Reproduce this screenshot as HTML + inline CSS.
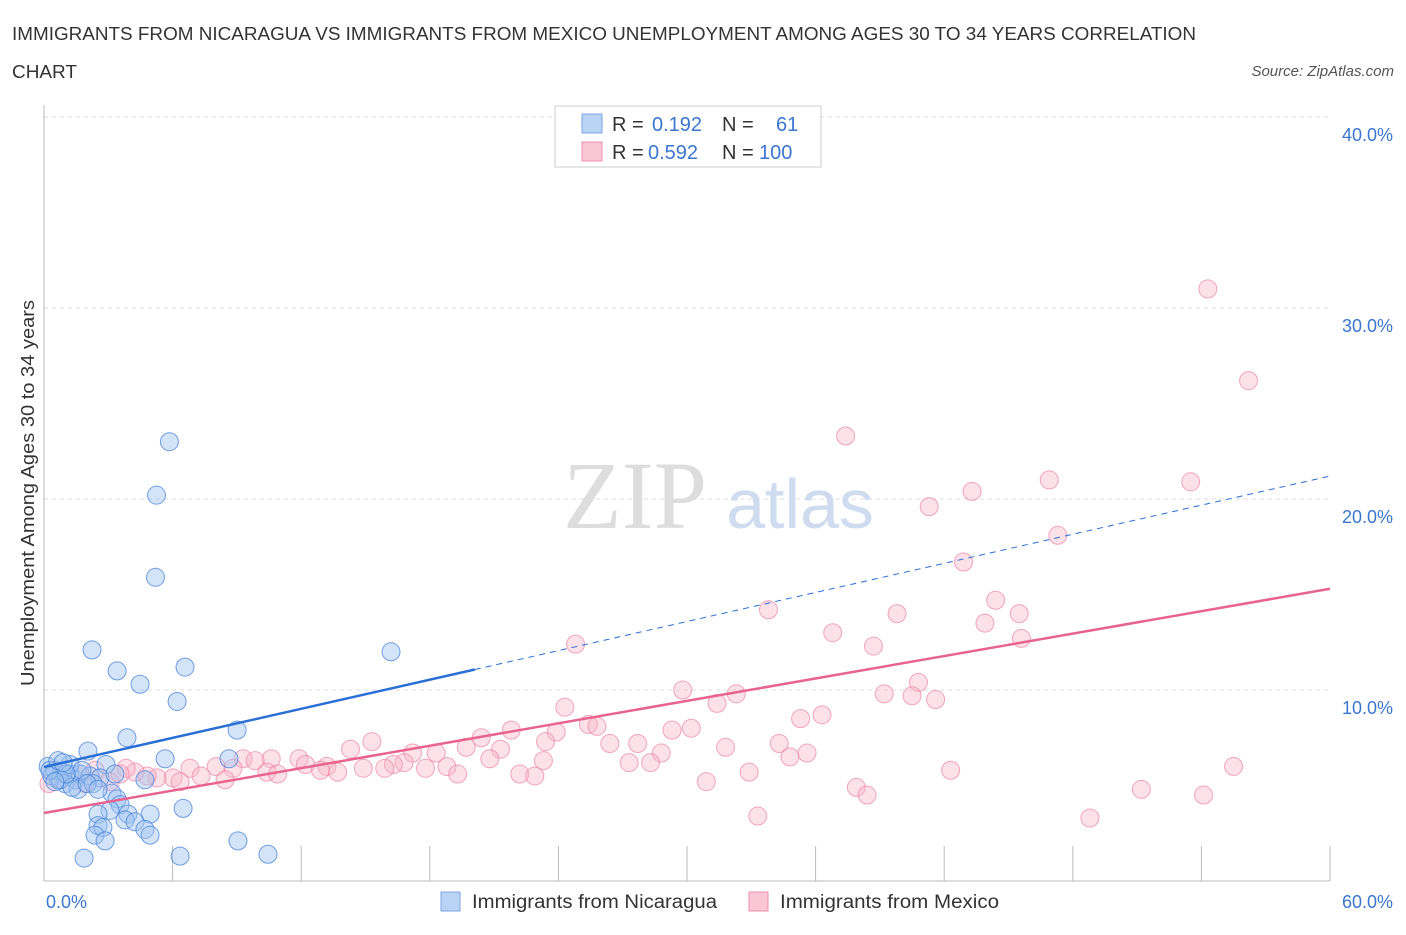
<!DOCTYPE html>
<html><head><meta charset="utf-8"><style>
body{margin:0;background:#fff;font-family:"Liberation Sans",sans-serif;}
</style></head><body>
<svg id="chart" width="1406" height="930" xmlns="http://www.w3.org/2000/svg">
<text x="12" y="40" font-size="18" fill="#333" textLength="1184" lengthAdjust="spacingAndGlyphs">IMMIGRANTS FROM NICARAGUA VS IMMIGRANTS FROM MEXICO UNEMPLOYMENT AMONG AGES 30 TO 34 YEARS CORRELATION</text>
<text x="12" y="78" font-size="18" fill="#333" textLength="65" lengthAdjust="spacingAndGlyphs">CHART</text>
<text x="1394" y="76" font-size="15" fill="#555" font-style="italic" text-anchor="end">Source: ZipAtlas.com</text>
<text x="34" y="493" font-size="18" fill="#333" text-anchor="middle" textLength="386" lengthAdjust="spacingAndGlyphs" transform="rotate(-90 34 493)">Unemployment Among Ages 30 to 34 years</text>
<g id="grid"></g>
<text x="635" y="528" font-size="96" fill="#ddd" font-family="Liberation Serif,serif" text-anchor="middle">ZIP</text>
<text x="800" y="528" font-size="70" fill="#cfdcf0" text-anchor="middle">atlas</text>
<g id="marks"></g>
<g>
<rect x="555" y="106" width="266" height="61" fill="#fff" stroke="#ccc"/>
<rect x="582" y="114" width="20" height="19" fill="#b9d3f5" stroke="#7aa6e6"/>
<rect x="582" y="142" width="20" height="19" fill="#fac6d6" stroke="#ec8fae"/>
<text x="612" y="131" font-size="20" fill="#333">R = <tspan fill="#3b76d0" x="652">0.192</tspan><tspan x="722">N =</tspan><tspan fill="#3b76d0" x="776">61</tspan></text>
<text x="612" y="159" font-size="20" fill="#333">R = <tspan fill="#3b76d0" x="648">0.592</tspan><tspan x="722">N =</tspan><tspan fill="#3b76d0" x="759">100</tspan></text>
</g>
<g>
<rect x="441" y="892" width="19" height="19" fill="#b9d3f5" stroke="#7aa6e6"/>
<text x="472" y="908" font-size="19" fill="#333" textLength="245" lengthAdjust="spacingAndGlyphs">Immigrants from Nicaragua</text>
<rect x="749" y="892" width="19" height="19" fill="#fac6d6" stroke="#ec8fae"/>
<text x="780" y="908" font-size="19" fill="#333" textLength="219" lengthAdjust="spacingAndGlyphs">Immigrants from Mexico</text>
</g>
</svg>
<script>
const yTicks=[10,20,30,40];
const yTickLabels=["10.0%","20.0%","30.0%","40.0%"];
const xTickValues=[0,6,12,18,24,30,36,42,48,54,60];
const xEndLabels=["0.0%","60.0%"];
const blueX=[5.85,5.25,5.2,2.24,3.41,6.58,4.48,6.21,16.19,9.01,3.87,5.65,8.63,2.05,2.89,0.19,0.51,0.84,1.21,0.65,1.45,0.37,1.68,2.15,0.98,1.59,2.61,3.31,4.71,3.17,3.41,3.55,3.08,2.52,3.92,4.95,6.49,3.78,4.25,4.71,4.95,2.52,2.75,2.38,2.85,1.87,6.35,9.05,10.45,0.75,1.21,1.77,0.28,2.29,0.65,1.31,2.01,1.03,0.51,0.89,2.52];
const blueY=[23.0,20.2,15.9,12.1,11.0,11.2,10.3,9.4,12.0,7.9,7.5,6.4,6.4,6.8,6.1,6.0,5.8,5.7,5.6,5.3,5.3,5.5,5.6,5.5,5.1,4.8,5.4,5.6,5.3,4.6,4.3,4.0,3.7,3.5,3.5,3.5,3.8,3.2,3.1,2.7,2.4,2.9,2.8,2.4,2.1,1.2,1.3,2.1,1.4,5.3,6.1,5.8,5.8,5.1,6.3,4.9,5.1,5.6,5.2,6.2,4.8];
const pinkX=[54.3,56.2,37.4,46.9,53.5,43.3,41.3,47.3,42.9,33.8,44.4,45.5,39.8,36.8,43.9,24.8,38.7,45.6,29.8,40.8,39.2,40.5,41.6,32.3,31.4,24.3,36.3,35.3,25.4,25.8,30.2,29.3,21.8,23.9,20.4,15.3,14.3,19.7,21.3,18.3,17.2,26.4,27.7,23.4,31.8,34.3,35.6,34.8,28.8,20.8,27.3,28.3,23.3,16.8,16.3,18.8,17.8,11.9,13.2,10.6,9.29,9.85,8.03,6.81,12.2,12.9,13.7,14.9,15.9,8.82,10.4,10.9,19.3,22.2,22.9,32.9,30.9,42.3,55.5,7.33,8.45,6.02,5.27,4.81,4.25,3.83,2.38,1.68,0.75,0.23,3.08,6.35,37.9,38.4,51.2,54.1,33.3,48.8,1.91,3.55];
const pinkY=[31.0,26.2,23.3,21.0,20.9,20.4,19.6,18.1,16.7,14.2,14.7,14.0,14.0,13.0,13.5,12.4,12.3,12.7,10.0,10.4,9.8,9.7,9.5,9.8,9.3,9.1,8.7,8.5,8.2,8.1,8.0,7.9,7.9,7.8,7.5,7.3,6.9,7.0,6.9,6.7,6.7,7.2,7.2,7.3,7.0,7.2,6.7,6.5,6.7,6.4,6.2,6.2,6.3,6.2,6.1,5.99,5.9,6.4,6.0,6.4,6.4,6.3,5.99,5.9,6.1,5.8,5.7,5.9,5.9,5.9,5.7,5.6,5.6,5.6,5.5,5.7,5.2,5.8,6.0,5.5,5.3,5.4,5.4,5.5,5.7,5.9,5.8,5.6,5.3,5.1,5.2,5.2,4.9,4.5,4.8,4.5,3.4,3.3,5.1,5.6];
const blueLine=[5.97,21.2];
const pinkLine=[3.56,15.3];
const X=v=>44+v*(1286/60), Y=v=>881-v*19.1;
const NS="http://www.w3.org/2000/svg";
function mk(tag,attrs,parent){const e=document.createElementNS(NS,tag);for(const k in attrs)e.setAttribute(k,attrs[k]);parent.appendChild(e);return e;}
const grid=document.getElementById('grid'),marks=document.getElementById('marks');
yTicks.forEach((t,i)=>{
 const l=mk('line',{x1:44,x2:1330,y1:Y(t),y2:Y(t),stroke:'#ddd','stroke-dasharray':'4,4'},grid);
 
 
 const tx=mk('text',{x:1393,y:Y(t)+24,'font-size':18,fill:'#3b76d0','text-anchor':'end'},grid);
 tx.textContent=yTickLabels[i];
 
 
});
const ax=mk('line',{x1:44,x2:1330,y1:881,y2:881,stroke:'#bbb'},grid);


const ay=mk('line',{x1:44,x2:44,y1:105,y2:881,stroke:'#bbb'},grid);


xTickValues.forEach(t=>{const l=mk('line',{x1:X(t),x2:X(t),y1:846,y2:881,stroke:'#bbb'},grid);
 
 });
[[0,'start',46],[60,'end',1393]].forEach((a,i)=>{const tx=mk('text',{x:a[2],y:908,'font-size':18,fill:'#3b76d0','text-anchor':a[1]},grid);tx.textContent=xEndLabels[i];
 
 });
pinkX.forEach((x,i)=>{const c=mk('circle',{cx:X(x),cy:Y(pinkY[i]),r:9,fill:'rgba(248,180,200,0.4)',stroke:'rgba(236,130,165,0.7)'},marks);
 
 });
blueX.forEach((x,i)=>{const c=mk('circle',{cx:X(x),cy:Y(blueY[i]),r:9,fill:'rgba(160,195,240,0.45)',stroke:'rgba(70,130,220,0.75)'},marks);
 
 });
const by=x=>blueLine[0]+(blueLine[1]-blueLine[0])*x/60;
const b1=mk('line',{x1:X(0),y1:Y(by(0)),x2:X(20.1),y2:Y(by(20.1)),stroke:'#2a6fd6','stroke-width':2.5},marks);


const b2=mk('line',{x1:X(20.1),y1:Y(by(20.1)),x2:X(60),y2:Y(by(60)),stroke:'#2a6fd6','stroke-width':1,'stroke-dasharray':'6,5'},marks);


const p1=mk('line',{x1:X(0),y1:Y(pinkLine[0]),x2:X(60),y2:Y(pinkLine[1]),stroke:'#e8648f','stroke-width':2.5},marks);


</script>
</body></html>
